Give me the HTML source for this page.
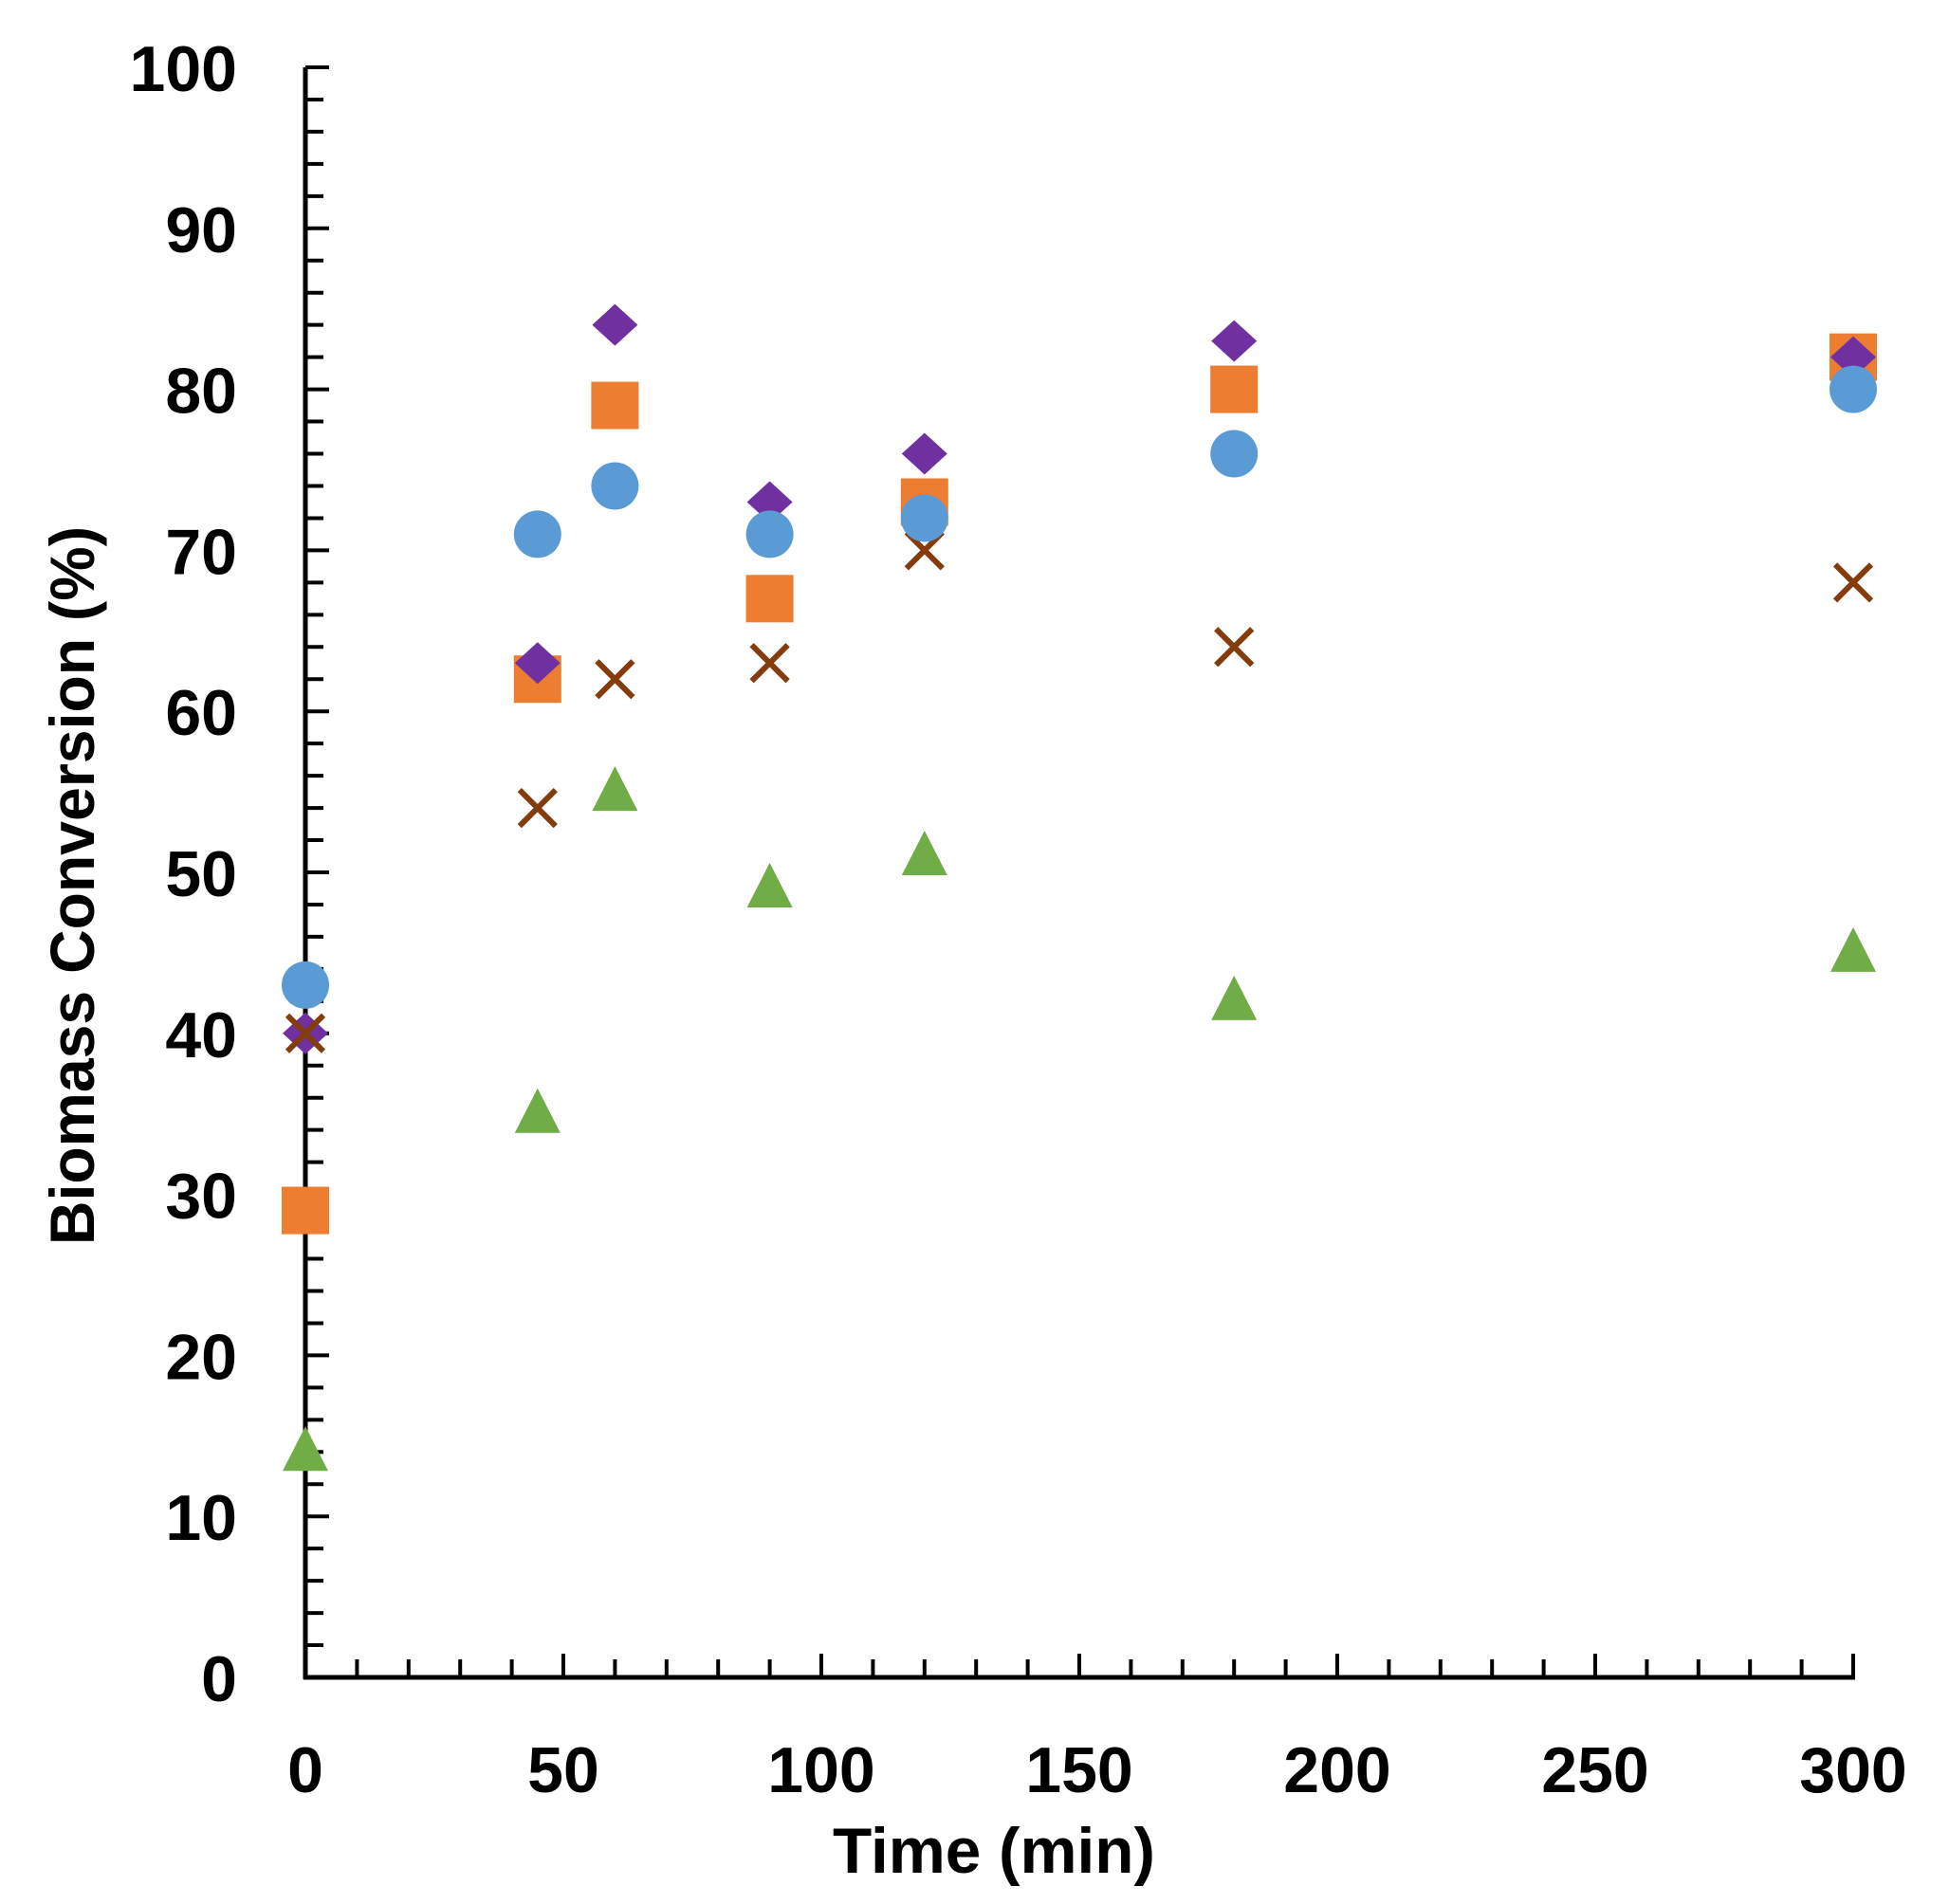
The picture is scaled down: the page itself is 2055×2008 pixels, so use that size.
<!DOCTYPE html>
<html><head><meta charset="utf-8"><style>
html,body{margin:0;padding:0;background:#fff;}
svg{display:block;}
text{font-family:"Liberation Sans",sans-serif;font-weight:bold;fill:#000;}
</style></head><body>
<svg id="chart" width="2055" height="2008" viewBox="0 0 2055 2008">
<g id="axes"></g>
<g id="marks"></g>
<text x="1048" y="1975" font-size="68" text-anchor="middle" textLength="340" lengthAdjust="spacingAndGlyphs">Time (min)</text>
<text transform="translate(99,934) rotate(-90)" font-size="66" text-anchor="middle" textLength="758" lengthAdjust="spacingAndGlyphs">Biomass Conversion (%)</text>
</svg>
<script>
const times = [0, 45, 60, 90, 120, 180, 300];
const seriesDiamond = [40, 63, 84, 73, 76, 83, 82];
const seriesSquare = [29, 62, 79, 67, 73, 80, 82];
const seriesCircle = [43, 71, 74, 71, 72, 76, 80];
const seriesCross = [40, 54, 62, 63, 70, 64, 68];
const seriesTriangle = [14, 35, 55, 49, 51, 42, 45];
const xTickLabels = [0, 50, 100, 150, 200, 250, 300];
const yTickLabels = [0, 10, 20, 30, 40, 50, 60, 70, 80, 90, 100];

const X0 = 322, X1 = 1954, Y0 = 1769, Y1 = 71;
const xScale = t => X0 + (t / 300) * (X1 - X0);
const yScale = v => Y0 - (v / 100) * (Y0 - Y1);
const NS = 'http://www.w3.org/2000/svg';
const axes = document.getElementById('axes');
const marks = document.getElementById('marks');
function mk(tag, attrs, parent) {
  const e = document.createElementNS(NS, tag);
  for (const k in attrs) e.setAttribute(k, attrs[k]);
  parent.appendChild(e);
  return e;
}
// axis lines
let yl = mk('line', {x1: X0, y1: Y1, x2: X0, y2: Y0 + 2, stroke: '#000', 'stroke-width': 5}, axes);


let xl = mk('line', {x1: X0 - 2, y1: Y0, x2: X1 + 2, y2: Y0, stroke: '#000', 'stroke-width': 5}, axes);


// y ticks
for (let v = 0; v <= 100; v += 2) {
  const major = v % 10 === 0;
  const y = yScale(v);
  const t = mk('line', {x1: X0, y1: y, x2: X0 + (major ? 25 : 19), y2: y, stroke: '#000', 'stroke-width': 4}, axes);
  
  
}
yTickLabels.forEach(v => {
  const t = mk('text', {x: 250, y: yScale(v) + 25, 'font-size': 68, 'text-anchor': 'end'}, axes);
  t.textContent = v;
  
  
});
// x ticks
for (let v = 10; v <= 300; v += 10) {
  const major = v % 50 === 0;
  const x = xScale(v);
  const t = mk('line', {x1: x, y1: Y0, x2: x, y2: Y0 - (major ? 25 : 19), stroke: '#000', 'stroke-width': 4}, axes);
  
  
}
xTickLabels.forEach(v => {
  const t = mk('text', {x: xScale(v), y: 1890, 'font-size': 68, 'text-anchor': 'middle'}, axes);
  t.textContent = v;
  
  
});
// markers
seriesSquare.forEach((v, i) => {
  const x = xScale(times[i]), y = yScale(v);
  const m = mk('rect', {x: x - 25, y: y - 25, width: 50, height: 50, fill: '#ED7D31'}, marks);
  
  
});
seriesDiamond.forEach((v, i) => {
  const x = xScale(times[i]), y = yScale(v);
  const m = mk('polygon', {points: `${x},${y - 22} ${x + 24},${y} ${x},${y + 22} ${x - 24},${y}`, fill: '#7030A0'}, marks);
  
  
});
seriesCross.forEach((v, i) => {
  const x = xScale(times[i]), y = yScale(v), s = 19;
  const m = mk('path', {d: `M${x - s},${y - s}L${x + s},${y + s}M${x + s},${y - s}L${x - s},${y + s}`, stroke: '#843C0C', 'stroke-width': 6, fill: 'none'}, marks);
  
  
});
seriesCircle.forEach((v, i) => {
  const x = xScale(times[i]), y = yScale(v);
  const m = mk('circle', {cx: x, cy: y, r: 25, fill: '#5B9BD5'}, marks);
  
  
});
seriesTriangle.forEach((v, i) => {
  const x = xScale(times[i]), y = yScale(v);
  const m = mk('polygon', {points: `${x},${y - 27} ${x + 24},${y + 20} ${x - 24},${y + 20}`, fill: '#70AD47'}, marks);
  
  
});
</script>
</body></html>
